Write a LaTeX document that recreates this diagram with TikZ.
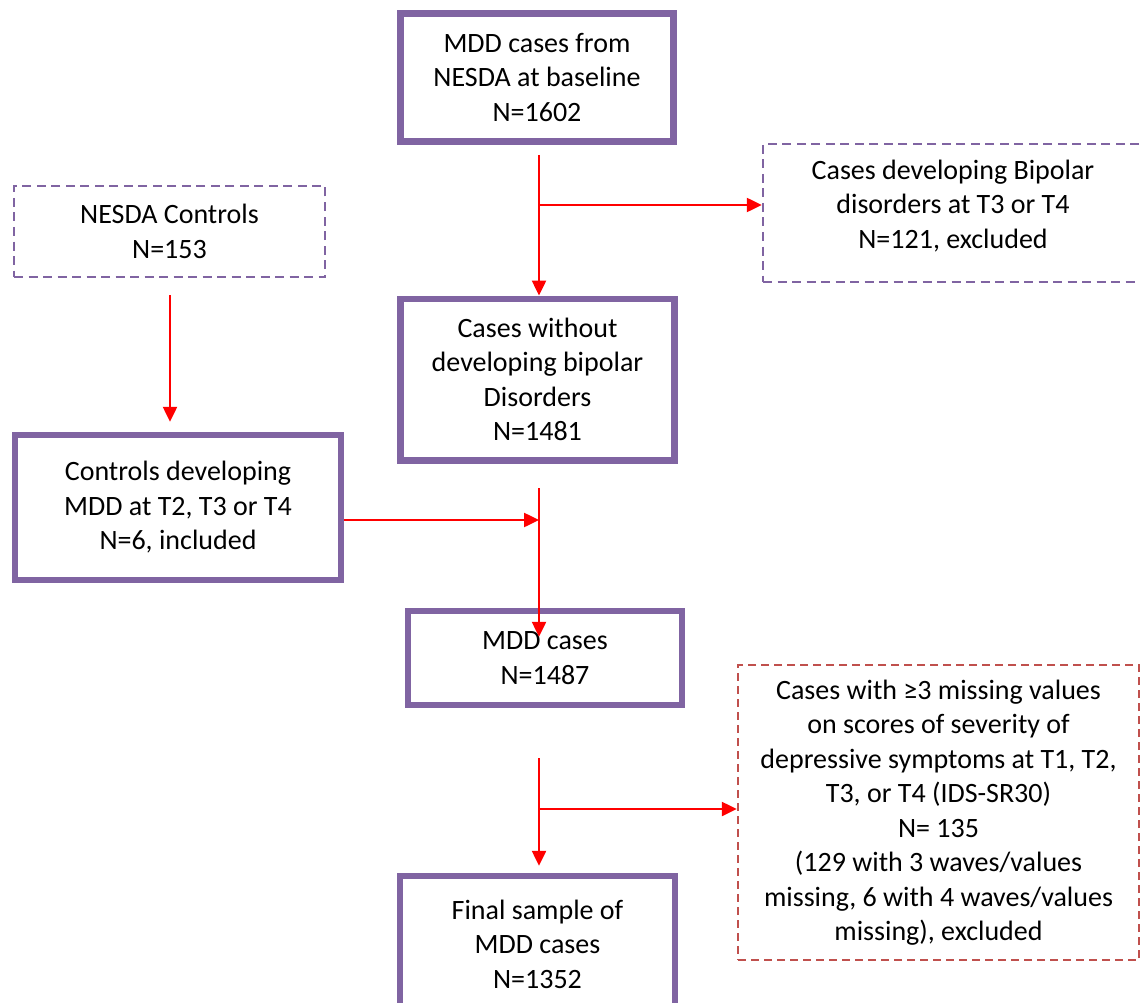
\documentclass[tikz,border=0pt]{standalone}
\usepackage{fontspec}
\setmainfont{Carlito}
\usetikzlibrary{arrows.meta}
\definecolor{boxpurple}{HTML}{8064A2}
\definecolor{dashred}{HTML}{C0504D}
\definecolor{arrred}{HTML}{FF0000}
\begin{document}
\begin{tikzpicture}[x=1pt,y=-1pt,
  txt/.style={font=\fontsize{28}{34.5}\selectfont, align=center, inner sep=0pt, text=black},
  solidbox/.style={txt, draw=boxpurple, line width=6.5pt},
  dashbox/.style={txt, draw=boxpurple, line width=2.5pt, dash pattern=on 9pt off 5.5pt},
  redbox/.style={txt, draw=dashred, line width=2.5pt, dash pattern=on 8pt off 5pt},
  arr/.style={draw=arrred, line width=2.5pt, -{Triangle[length=15pt,width=14pt]}},
  ln/.style={draw=arrred, line width=2.5pt}]
\useasboundingbox (0,0) rectangle (1140,1003);
\clip (0,0) rectangle (1140,1003);
\fill[white] (0,0) rectangle (1140,1003);

% boxes
\node[solidbox, minimum width=273pt, minimum height=128pt] (start) at (537,77.5)
  {MDD cases from\\NESDA at baseline\\N=1602};
\node[dashbox, minimum width=380pt, minimum height=138pt] (bip) at (953,213) {};
\node[txt] (biptext) at (953,206)
  {Cases developing Bipolar\\disorders at T3 or T4\\N=121, excluded};
\node[dashbox, minimum width=311pt, minimum height=91pt] (ctrl) at (169.5,231.5)
  {NESDA Controls\\N=153};
\node[solidbox, minimum width=274pt, minimum height=161.5pt] (nobip) at (537.5,379.5)
  {Cases without\\developing bipolar\\Disorders\\N=1481};
\node[solidbox, minimum width=326pt, minimum height=145pt] (ctrldev) at (178,507.5)
  {Controls developing\\MDD at T2, T3 or T4\\N=6, included};
\node[solidbox, minimum width=274pt, minimum height=94pt] (mdd) at (545,658)
  {MDD cases\\N=1487};
\node[redbox, minimum width=401pt, minimum height=295pt] (miss) at (938.5,812.5)
  {Cases with ≥3 missing values\\on scores of severity of\\depressive symptoms at T1, T2,\\T3, or T4 (IDS-SR30)\\N= 135\\(129 with 3 waves/values\\missing, 6 with 4 waves/values\\missing), excluded};
\node[solidbox, minimum width=275pt, minimum height=136pt] (final) at (537.5,944)
  {Final sample of\\MDD cases\\N=1352};

% connector anchor points
\coordinate (c1) at (539,155);
\coordinate (b1) at (539,205);
\coordinate (c2) at (170,295);
\coordinate (j2) at (539,520);
\coordinate (c3) at (539,488);
\coordinate (c4) at (539,758);
\coordinate (b4) at (539,809);

% connectors
\draw[arr] (c1) -- (c1 |- nobip.north);
\draw[arr] (b1) -- (b1 -| bip.west);
\draw[arr] (c2) -- ([yshift=10pt]c2 |- ctrldev.north);
\draw[arr] (ctrldev.east |- j2) -- (j2);
\draw[arr] (c3) -- ([yshift=-29pt]c3 |- mdd.north);
\draw[arr] (c4) -- ([yshift=7pt]c4 |- final.north);
\draw[arr] (b4) -- (b4 -| miss.west);
\end{tikzpicture}
\end{document}
